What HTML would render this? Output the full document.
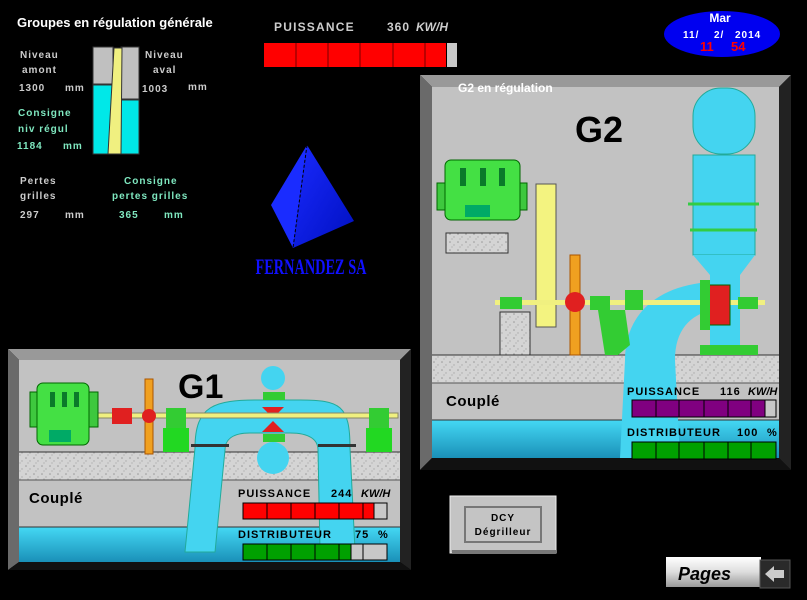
<!DOCTYPE html>
<html><head><meta charset="utf-8"><style>
html,body{margin:0;padding:0;background:#000;width:807px;height:600px;overflow:hidden}
svg{display:block}
text{font-family:"Liberation Sans",sans-serif;font-weight:bold}
</style></head><body>
<svg width="807" height="600" viewBox="0 0 807 600" xmlns="http://www.w3.org/2000/svg">
<defs>
<linearGradient id="wat" x1="0" y1="0" x2="0" y2="1"><stop offset="0" stop-color="#44d8f4"/><stop offset="1" stop-color="#1a90b8"/></linearGradient>
<linearGradient id="pyr" x1="0" y1="0" x2="1" y2="1"><stop offset="0" stop-color="#1a2aff"/><stop offset="1" stop-color="#0010c0"/></linearGradient>
<linearGradient id="btn" x1="0" y1="0" x2="0" y2="1"><stop offset="0" stop-color="#fff"/><stop offset="0.5" stop-color="#ddd"/><stop offset="1" stop-color="#999"/></linearGradient>
<pattern id="conc" width="8" height="8" patternUnits="userSpaceOnUse"><rect width="8" height="8" fill="#d4d4d4"/><circle cx="2" cy="2" r="0.8" fill="#999"/><circle cx="6" cy="5" r="0.7" fill="#aaa"/><circle cx="4" cy="7" r="0.5" fill="#888"/></pattern>
</defs>

<text x="17" y="27" font-size="13" fill="#fff">Groupes en régulation générale</text>
<g font-size="10" fill="#ccc" letter-spacing="1">
<text x="20" y="58">Niveau</text><text x="22" y="73">amont</text>
<text x="19" y="91">1300</text><text x="65" y="91">mm</text>
<text x="145" y="58">Niveau</text><text x="153" y="73">aval</text>
<text x="142" y="92">1003</text><text x="188" y="90">mm</text>
<text x="20" y="184">Pertes</text><text x="20" y="199">grilles</text>
<text x="20" y="218">297</text><text x="65" y="218">mm</text>
</g>
<g font-size="10" fill="#7fe8c0" letter-spacing="1">
<text x="18" y="116">Consigne</text><text x="18" y="132">niv régul</text>
<text x="17" y="149">1184</text><text x="63" y="149">mm</text>
<text x="124" y="184">Consigne</text><text x="112" y="199">pertes grilles</text>
<text x="119" y="218">365</text><text x="164" y="218">mm</text>
</g>
<rect x="93" y="47" width="20" height="37" fill="#c0c0c0" stroke="#333"/>
<rect x="93" y="85" width="19" height="69" fill="#00e8e8" stroke="#333"/>
<rect x="121" y="47" width="18" height="52" fill="#c0c0c0" stroke="#333"/>
<rect x="121" y="100" width="18" height="54" fill="#00e8e8" stroke="#333"/>
<polygon points="114,48 122,48 121,154 108,154" fill="#f0f080" stroke="#333"/>

<polygon points="307,145 271,205 293,248" fill="#1a2cff"/>
<polygon points="307,145 354,221 293,248" fill="url(#pyr)"/>
<line x1="307" y1="145" x2="293" y2="248" stroke="#000" stroke-dasharray="3,2"/>
<text x="311" y="274" font-size="22" fill="#1010ff" text-anchor="middle" textLength="111" lengthAdjust="spacingAndGlyphs" style="font-family:'Liberation Serif',serif;font-weight:bold">FERNANDEZ SA</text>

<text x="274" y="31" font-size="12" fill="#ccc" letter-spacing="1.2">PUISSANCE</text>
<text x="387" y="31" font-size="12" fill="#ccc" letter-spacing="1">360</text>
<text x="416" y="31" font-size="12" fill="#ccc" font-style="italic">KW/H</text>
<rect x="264" y="43" width="182" height="24" fill="#f00"/>
<g stroke="#700" stroke-width="1"><line x1="296" y1="43" x2="296" y2="67"/><line x1="328" y1="43" x2="328" y2="67"/><line x1="360" y1="43" x2="360" y2="67"/><line x1="393" y1="43" x2="393" y2="67"/><line x1="425" y1="43" x2="425" y2="67"/></g>
<rect x="447" y="43" width="10" height="24" fill="#c8c8c8"/>

<ellipse cx="722" cy="34" rx="58" ry="23" fill="#0000f0"/>
<text x="720" y="22" font-size="12" fill="#fff" text-anchor="middle">Mar</text>
<text x="683" y="38" font-size="10" fill="#fff" letter-spacing="1">11/</text>
<text x="714" y="38" font-size="10" fill="#fff" letter-spacing="1">2/</text>
<text x="735" y="38" font-size="10" fill="#fff" letter-spacing="1">2014</text>
<text x="700" y="51" font-size="13" fill="#f00">11</text>
<text x="731" y="51" font-size="13" fill="#f00">54</text>

<!-- G2 panel -->
<g>
<polygon points="420,75 791,75 779,87 432,87" fill="#999"/>
<polygon points="420,75 432,87 432,458 420,470" fill="#6a6a6a"/>
<polygon points="791,75 791,470 779,458 779,87" fill="#222"/>
<polygon points="420,470 791,470 779,458 432,458" fill="#111"/>
<rect x="432" y="87" width="347" height="371" fill="#c2c2c2"/>
<rect x="432" y="355" width="347" height="28" fill="url(#conc)"/>
<line x1="432" y1="355" x2="779" y2="355" stroke="#333"/>
<line x1="432" y1="383" x2="779" y2="383" stroke="#555"/>
<rect x="432" y="420" width="347" height="38" fill="url(#wat)"/>
<line x1="432" y1="420" x2="779" y2="420" stroke="#333"/>
<text x="458" y="92" font-size="12" fill="#fff">G2 en régulation</text>
<text x="575" y="142" font-size="36" fill="#000">G2</text>
<rect x="693" y="88" width="62" height="66" rx="28" fill="#44d4f0" stroke="#2a9"/>
<rect x="693" y="155" width="62" height="100" fill="#44d4f0" stroke="#2a9"/>
<polygon points="693,255 755,255 740,275 710,275" fill="#44d4f0"/>
<rect x="710" y="275" width="30" height="80" fill="#44d4f0"/>
<line x1="688" y1="204" x2="759" y2="204" stroke="#3c4" stroke-width="3"/>
<line x1="690" y1="230" x2="757" y2="230" stroke="#3c4" stroke-width="3"/>
<path d="M700,283 C650,290 625,320 625,360 L620,458 L680,458 L675,360 C675,330 690,315 712,310 Z" fill="#44d4f0"/>
<rect x="437" y="183" width="90" height="27" fill="#3ec83e" stroke="#060"/>
<rect x="445" y="160" width="75" height="60" rx="6" fill="#44e044" stroke="#060"/>
<g fill="#0a7a2a"><rect x="460" y="168" width="6" height="18"/><rect x="480" y="168" width="6" height="18"/><rect x="499" y="168" width="6" height="18"/></g>
<rect x="465" y="205" width="25" height="12" fill="#0a6"/>
<rect x="446" y="233" width="62" height="20" fill="url(#conc)" stroke="#333"/>
<rect x="536" y="184" width="20" height="143" fill="#f3f380" stroke="#555"/>
<rect x="495" y="300" width="270" height="5" fill="#f0f080"/>
<rect x="500" y="312" width="30" height="43" fill="url(#conc)" stroke="#333"/>
<rect x="500" y="297" width="22" height="12" fill="#3c3"/>
<rect x="570" y="255" width="10" height="100" fill="#f0a020" stroke="#a50"/>
<circle cx="575" cy="302" r="10" fill="#e02020"/>
<rect x="590" y="296" width="20" height="14" fill="#3c3"/>
<polygon points="598,310 625,310 630,345 618,355 605,355" fill="#3c3"/>
<rect x="625" y="290" width="18" height="20" fill="#3c3"/>
<rect x="705" y="285" width="25" height="40" fill="#e02020" stroke="#060"/>
<rect x="700" y="280" width="10" height="50" fill="#3c3"/>
<rect x="738" y="297" width="20" height="12" fill="#3c3"/>
<rect x="700" y="345" width="58" height="10" fill="#3c3"/>
<g font-size="11" fill="#000" letter-spacing="1">
<text x="446" y="406" font-size="15" letter-spacing="0.5">Couplé</text>
<text x="627" y="395">PUISSANCE</text><text x="720" y="395">116</text>
<text x="748" y="395" font-style="italic" letter-spacing="0">KW/H</text>
<text x="627" y="436">DISTRIBUTEUR</text><text x="737" y="436">100</text><text x="767" y="436">%</text>
</g>
<rect x="632" y="400" width="144" height="17" fill="#c8c8c8" stroke="#000"/>
<rect x="632" y="400" width="133" height="17" fill="#800080" stroke="#000"/>
<g stroke="#000"><line x1="656" y1="400" x2="656" y2="417"/><line x1="679" y1="400" x2="679" y2="417"/><line x1="704" y1="400" x2="704" y2="417"/><line x1="728" y1="400" x2="728" y2="417"/><line x1="751" y1="400" x2="751" y2="417"/></g>
<rect x="632" y="442" width="144" height="17" fill="#00a000" stroke="#000"/>
<g stroke="#000"><line x1="656" y1="442" x2="656" y2="459"/><line x1="679" y1="442" x2="679" y2="459"/><line x1="704" y1="442" x2="704" y2="459"/><line x1="728" y1="442" x2="728" y2="459"/><line x1="751" y1="442" x2="751" y2="459"/></g>
</g>

<!-- G1 panel -->
<g>
<polygon points="8,349 411,349 400,360 19,360" fill="#999"/>
<polygon points="8,349 19,360 19,562 8,570" fill="#6a6a6a"/>
<polygon points="411,349 411,570 400,562 400,360" fill="#222"/>
<polygon points="8,570 411,570 400,562 19,562" fill="#111"/>
<rect x="19" y="360" width="381" height="202" fill="#c2c2c2"/>
<rect x="19" y="452" width="381" height="28" fill="url(#conc)"/>
<line x1="19" y1="452" x2="400" y2="452" stroke="#333"/>
<line x1="19" y1="480" x2="400" y2="480" stroke="#555"/>
<rect x="19" y="527" width="381" height="35" fill="url(#wat)"/>
<line x1="19" y1="527" x2="400" y2="527" stroke="#333"/>
<text x="178" y="398" font-size="34" fill="#000">G1</text>
<path d="M195,448 C195,405 215,400 258,400 L300,400 C340,400 350,405 350,448 L355,550 L320,550 L318,450 C318,440 310,433 290,433 L250,433 C232,433 225,440 225,450 L215,552 L185,552 Z" fill="#44d4f0" stroke="#2a9"/>
<circle cx="273" cy="378" r="12" fill="#44d4f0"/>
<circle cx="273" cy="458" r="16" fill="#44d4f0"/>
<polygon points="262,407 284,407 273,418" fill="#e02020"/>
<polygon points="262,432 284,432 273,421" fill="#e02020"/>
<rect x="263" y="392" width="22" height="8" fill="#3c3"/>
<rect x="263" y="434" width="22" height="8" fill="#3c3"/>
<rect x="191" y="444" width="38" height="3" fill="#333"/>
<rect x="318" y="444" width="38" height="3" fill="#333"/>
<rect x="95" y="413" width="303" height="5" fill="#f0f080" stroke="#886"/>
<rect x="30" y="392" width="68" height="35" fill="#3ec83e" stroke="#060"/>
<rect x="37" y="383" width="52" height="62" rx="6" fill="#44e044" stroke="#060"/>
<g fill="#0a7a2a"><rect x="50" y="392" width="5" height="15"/><rect x="62" y="392" width="5" height="15"/><rect x="74" y="392" width="5" height="15"/></g>
<rect x="49" y="430" width="22" height="12" fill="#0a6"/>
<rect x="112" y="408" width="20" height="16" fill="#e02020"/>
<rect x="145" y="379" width="8" height="75" fill="#f0a020" stroke="#a50"/>
<circle cx="149" cy="416" r="7" fill="#e02020"/>
<rect x="163" y="428" width="26" height="24" fill="#22d822"/>
<rect x="166" y="408" width="20" height="20" fill="#3c3"/>
<rect x="366" y="428" width="26" height="24" fill="#22d822"/>
<rect x="369" y="408" width="20" height="20" fill="#3c3"/>
<g font-size="11" fill="#000" letter-spacing="1">
<text x="29" y="503" font-size="15" letter-spacing="0.5">Couplé</text>
<text x="238" y="497">PUISSANCE</text><text x="331" y="497">244</text>
<text x="361" y="497" font-style="italic" letter-spacing="0">KW/H</text>
<text x="238" y="538">DISTRIBUTEUR</text><text x="355" y="538">75</text><text x="378" y="538">%</text>
</g>
<rect x="243" y="503" width="144" height="16" fill="#c8c8c8" stroke="#000"/>
<rect x="243" y="503" width="131" height="16" fill="#f00" stroke="#000"/>
<g stroke="#000"><line x1="267" y1="503" x2="267" y2="519"/><line x1="291" y1="503" x2="291" y2="519"/><line x1="315" y1="503" x2="315" y2="519"/><line x1="339" y1="503" x2="339" y2="519"/><line x1="363" y1="503" x2="363" y2="519"/></g>
<rect x="243" y="544" width="144" height="16" fill="#c8c8c8" stroke="#000"/>
<rect x="243" y="544" width="108" height="16" fill="#00a000" stroke="#000"/>
<g stroke="#000"><line x1="267" y1="544" x2="267" y2="560"/><line x1="291" y1="544" x2="291" y2="560"/><line x1="315" y1="544" x2="315" y2="560"/><line x1="339" y1="544" x2="339" y2="560"/><line x1="363" y1="544" x2="363" y2="560"/></g>
</g>

<rect x="450" y="496" width="106" height="57" fill="#c4c4c4" stroke="#eee"/>
<rect x="452" y="550" width="104" height="3" fill="#777"/>
<rect x="465" y="507" width="76" height="35" fill="#c4c4c4" stroke="#777" stroke-width="2"/>
<text x="503" y="521" font-size="10" fill="#000" text-anchor="middle" letter-spacing="1">DCY</text>
<text x="503" y="535" font-size="10" fill="#000" text-anchor="middle" letter-spacing="1">Dégrilleur</text>

<rect x="666" y="557" width="95" height="30" fill="url(#btn)"/>
<text x="678" y="580" font-size="18" fill="#000" font-style="italic">Pages</text>
<rect x="760" y="560" width="30" height="28" fill="#2a2a2a" stroke="#555"/>
<polygon points="765,574 774,566 774,570 784,570 784,578 774,578 774,582" fill="#ccc"/>
</svg>
</body></html>
